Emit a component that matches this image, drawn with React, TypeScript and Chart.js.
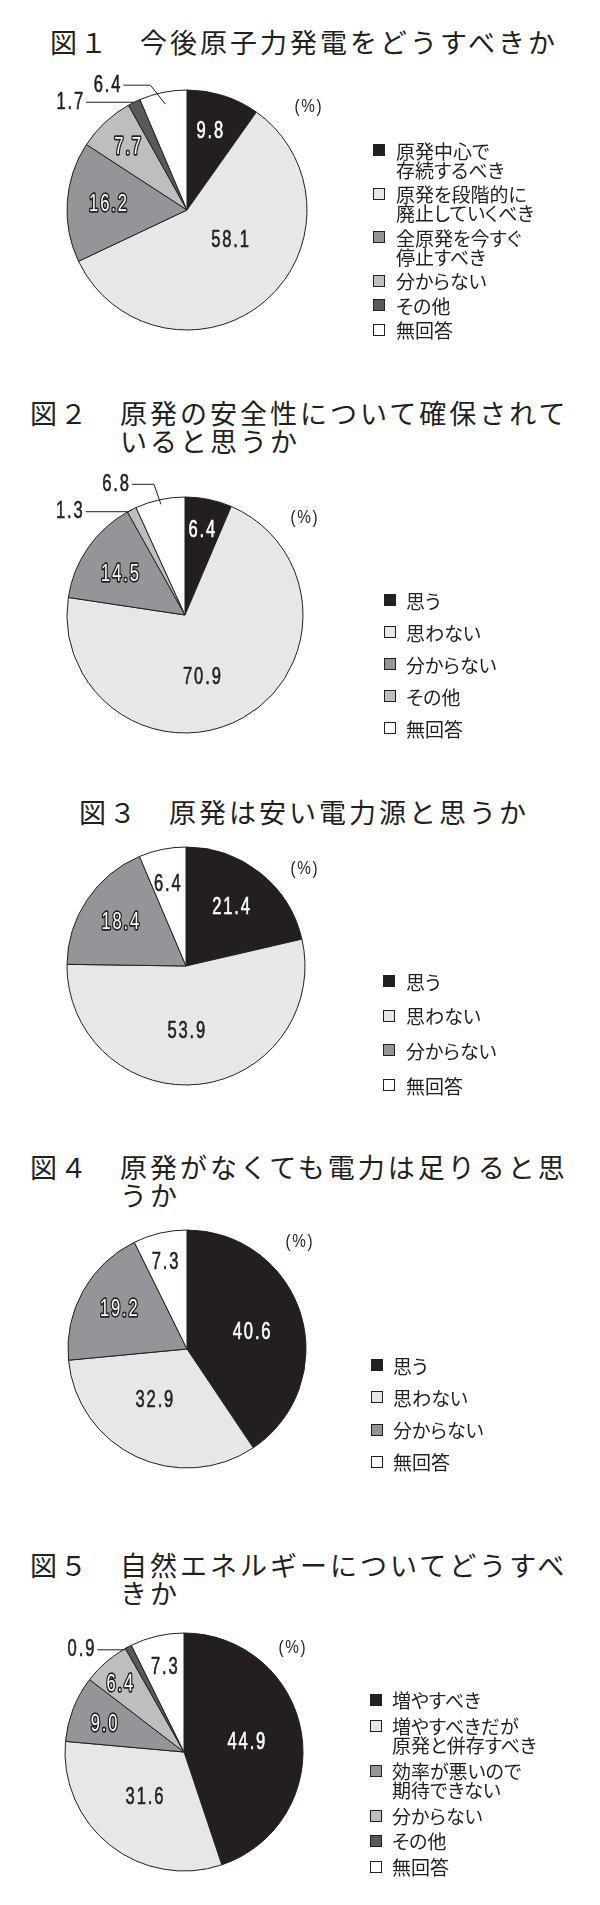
import React, { useEffect, useRef } from "react";
import { Chart, registerables } from "chart.js";

Chart.register(...registerables);

// ---------- palette ----------
const INK = "#231f20";
const BLACK = "#231f20";
const LIGHT = "#e6e7e8";
const MID = "#939598";
const PALE = "#bcbec0";
const DARK = "#58595b";
const WHITE = "#ffffff";

// ---------- data: figure 1 ----------
const title1Prefix = "図１　";
const title1Lines = ["今後原子力発電をどうすべきか"];
const categories1 = [
  "原発中心で\n存続するべき",
  "原発を段階的に\n廃止していくべき",
  "全原発を今すぐ\n停止すべき",
  "分からない",
  "その他",
  "無回答",
];
const values1 = [9.8, 58.1, 16.2, 7.7, 1.7, 6.4];
const colors1 = [BLACK, LIGHT, MID, PALE, DARK, WHITE];

// ---------- data: figure 2 ----------
const title2Prefix = "図２　";
const title2Lines = ["原発の安全性について確保されて", "いると思うか"];
const categories2 = ["思う", "思わない", "分からない", "その他", "無回答"];
const values2 = [6.4, 70.9, 14.5, 1.3, 6.8];
const colors2 = [BLACK, LIGHT, MID, PALE, WHITE];

// ---------- data: figure 3 ----------
const title3Prefix = "図３　";
const title3Lines = ["原発は安い電力源と思うか"];
const categories3 = ["思う", "思わない", "分からない", "無回答"];
const values3 = [21.4, 53.9, 18.4, 6.4];
const colors3 = [BLACK, LIGHT, MID, WHITE];

// ---------- data: figure 4 ----------
const title4Prefix = "図４　";
const title4Lines = ["原発がなくても電力は足りると思", "うか"];
const categories4 = ["思う", "思わない", "分からない", "無回答"];
const values4 = [40.6, 32.9, 19.2, 7.3];
const colors4 = [BLACK, LIGHT, MID, WHITE];

// ---------- data: figure 5 ----------
const title5Prefix = "図５　";
const title5Lines = ["自然エネルギーについてどうすべ", "きか"];
const categories5 = [
  "増やすべき",
  "増やすべきだが\n原発と併存すべき",
  "効率が悪いので\n期待できない",
  "分からない",
  "その他",
  "無回答",
];
const values5 = [44.9, 31.6, 9.0, 6.4, 0.9, 7.3];
const colors5 = [BLACK, LIGHT, MID, PALE, DARK, WHITE];

const PCT_LABEL = "(%)";

// ---------- layout ----------
type Outside = { index: number; r: number; ex: number; ey: number; len: number };
type Fig = {
  titlePrefix: string;
  titleLines: string[];
  titleX: number;
  titleY: number;
  categories: string[];
  values: number[];
  colors: string[];
  top: number;
  height: number;
  cx: number;
  cy: number;
  radius: number;
  labelR: number[];
  labelF: number[];
  outside: Outside[];
  pct: [number, number];
  legend: { sx: number; tx: number; y: number; lineH: number; gap: number };
};

const CANVAS_W = 340;

const figures: Fig[] = [
  {
    titlePrefix: title1Prefix, titleLines: title1Lines, titleX: 50, titleY: 42,
    categories: categories1, values: values1, colors: colors1,
    top: 0, height: 370, cx: 187, cy: 210, radius: 120,
    labelR: [0.68, 0.44, 0.66, 0.72, 0, 0],
    labelF: [0.46, 0.43, 0.5, 0.49, 0.5, 0.5],
    outside: [
      { index: 4, r: 1.0, ex: 6, ey: 0, len: 42 },
      { index: 5, r: 0.9, ex: 15, ey: 19, len: 27 },
    ],
    pct: [121, -103],
    legend: { sx: 373, tx: 396, y: 150, lineH: 19, gap: 5.5 },
  },
  {
    titlePrefix: title2Prefix, titleLines: title2Lines, titleX: 30, titleY: 413,
    categories: categories2, values: values2, colors: colors2,
    top: 370, height: 410, cx: 185, cy: 615, radius: 118,
    labelR: [0.73, 0.55, 0.65, 0, 0],
    labelF: [0.49, 0.555, 0.45, 0.5, 0.5],
    outside: [
      { index: 3, r: 1.0, ex: 3, ey: -2, len: 43 },
      { index: 4, r: 0.96, ex: 7, ey: 20, len: 22 },
    ],
    pct: [119, -97],
    legend: { sx: 384, tx: 406, y: 600, lineH: 19, gap: 13 },
  },
  {
    titlePrefix: title3Prefix, titleLines: title3Lines, titleX: 79, titleY: 812,
    categories: categories3, values: values3, colors: colors3,
    top: 780, height: 350, cx: 186, cy: 966, radius: 119,
    labelR: [0.62, 0.55, 0.66, 0.7],
    labelF: [0.49, 0.53, 0.49, 0.44],
    outside: [],
    pct: [118, -97],
    legend: { sx: 383, tx: 406, y: 981, lineH: 19, gap: 15.7 },
  },
  {
    titlePrefix: title4Prefix, titleLines: title4Lines, titleX: 30, titleY: 1167,
    categories: categories4, values: values4, colors: colors4,
    top: 1130, height: 390, cx: 187, cy: 1349, radius: 119,
    labelR: [0.56, 0.51, 0.66, 0.75],
    labelF: [0.52, 0.56, 0.51, 0.46],
    outside: [],
    pct: [112, -107],
    legend: { sx: 371, tx: 393, y: 1365, lineH: 19, gap: 13.3 },
  },
  {
    titlePrefix: title5Prefix, titleLines: title5Lines, titleX: 30, titleY: 1565,
    categories: categories5, values: values5, colors: colors5,
    top: 1520, height: 385, cx: 184, cy: 1752, radius: 119,
    labelR: [0.53, 0.51, 0.71, 0.78, 0, 0.73],
    labelF: [0.505, 0.52, 0.43, 0.38, 0.5, 0.5],
    outside: [{ index: 4, r: 1.0, ex: 4, ey: -3, len: 27 }],
    pct: [108, -104],
    legend: { sx: 370, tx: 392, y: 1700, lineH: 19.5, gap: 6 },
  },
];

// ---------- drawing helpers ----------
type NumStyle = { fill: string; stroke?: string; plain?: boolean };

function drawNum(
  ctx: CanvasRenderingContext2D,
  text: string,
  x: number,
  y: number,
  align: CanvasTextAlign,
  style: NumStyle,
  size = 23,
  sx = 0.72,
  spacing = 2.6
) {
  ctx.save();
  ctx.font = `${size}px "Liberation Sans", Arial, sans-serif`;
  (ctx as any).letterSpacing = `${spacing}px`;
  const shift = align === "center" ? (spacing * sx) / 2 : align === "right" ? spacing * sx : 0;
  ctx.translate(x + shift, y);
  ctx.scale(sx, 1);
  ctx.textAlign = align;
  ctx.textBaseline = "middle";
  ctx.lineJoin = "round";
  if (style.stroke) {
    ctx.lineWidth = 3.4;
    ctx.strokeStyle = style.stroke;
    ctx.strokeText(text, 0, 0);
  } else if (!style.plain) {
    // slight emboldening to match the print weight
    ctx.lineWidth = 0.6;
    ctx.strokeStyle = style.fill;
    ctx.strokeText(text, 0, 0);
  }
  ctx.fillStyle = style.fill;
  ctx.fillText(text, 0, 0);
  ctx.restore();
}

function labelStyle(color: string): NumStyle {
  if (color === BLACK || color === DARK) return { fill: "#ffffff" };
  if (color === MID || color === PALE) return { fill: "#ffffff", stroke: INK };
  return { fill: INK };
}

function makeLabelPlugin(fig: Fig) {
  return {
    id: "sliceLabels",
    afterDatasetsDraw(chart: any) {
      const ctx: CanvasRenderingContext2D = chart.ctx;
      const meta = chart.getDatasetMeta(0);
      let cx = 0;
      let cy = 0;
      meta.data.forEach((el: any, i: number) => {
        const p = el.getProps(["x", "y", "startAngle", "endAngle", "outerRadius"], true);
        cx = p.x;
        cy = p.y;
        const text = fig.values[i].toFixed(1);
        const out = fig.outside.find((o) => o.index === i);
        if (out) {
          const a = (p.startAngle + p.endAngle) / 2;
          const sx = p.x + Math.cos(a) * p.outerRadius * out.r;
          const sy = p.y + Math.sin(a) * p.outerRadius * out.r;
          const ex = sx - out.ex;
          const ey = sy - out.ey;
          const lx = ex - out.len;
          ctx.save();
          ctx.strokeStyle = INK;
          ctx.lineWidth = 1;
          ctx.beginPath();
          ctx.moveTo(sx, sy);
          ctx.lineTo(ex, ey);
          ctx.lineTo(lx, ey);
          ctx.stroke();
          ctx.restore();
          drawNum(ctx, text, lx - 3, ey, "right", { fill: INK });
          return;
        }
        const f = fig.labelF[i];
        const a = p.startAngle + (p.endAngle - p.startAngle) * f;
        const d = p.outerRadius * fig.labelR[i];
        drawNum(ctx, text, p.x + Math.cos(a) * d, p.y + Math.sin(a) * d, "center", labelStyle(fig.colors[i]));
      });
      drawNum(ctx, PCT_LABEL, cx + fig.pct[0], cy + fig.pct[1], "center", { fill: INK, plain: true }, 18, 0.85, 2);
    },
  };
}

const JP_FONT = '"Noto Sans CJK JP", "Noto Sans CJK SC", sans-serif';

function Figure({ fig }: { fig: Fig }) {
  const ref = useRef<HTMLCanvasElement>(null);
  useEffect(() => {
    const canvas = ref.current;
    if (!canvas) return;
    const cyLocal = fig.cy - fig.top;
    const r = fig.radius;
    const chart = new Chart(canvas, {
      type: "pie",
      data: {
        labels: fig.categories,
        datasets: [
          {
            data: fig.values,
            backgroundColor: fig.colors,
            borderColor: INK,
            borderWidth: 1,
          },
        ],
      },
      options: {
        responsive: false,
        animation: false,
        events: [],
        layout: {
          padding: {
            left: fig.cx - r - 0.5,
            right: CANVAS_W - fig.cx - r - 0.5,
            top: cyLocal - r - 0.5,
            bottom: fig.height - cyLocal - r - 0.5,
          },
        },
        plugins: {
          legend: { display: false },
          tooltip: { enabled: false },
          title: { display: false },
        },
      },
      plugins: [makeLabelPlugin(fig)],
    } as any);
    return () => chart.destroy();
  }, [fig]);

  const L = fig.legend;
  return (
    <>
      <div
        style={{
          position: "absolute",
          left: fig.titleX,
          top: fig.titleY - 14,
          display: "flex",
          fontFamily: JP_FONT,
          fontSize: 27,
          letterSpacing: "3px",
          lineHeight: "28px",
          color: INK,
          whiteSpace: "nowrap",
        }}
      >
        <span>{fig.titlePrefix}</span>
        <div>
          {fig.titleLines.map((line, i) => (
            <div key={i}>{line}</div>
          ))}
        </div>
      </div>
      <canvas
        ref={ref}
        width={CANVAS_W}
        height={fig.height}
        style={{ position: "absolute", left: 0, top: fig.top, width: CANVAS_W, height: fig.height, display: "block" }}
      />
      <div
        style={{
          position: "absolute",
          left: 0,
          top: L.y - L.lineH / 2,
          display: "flex",
          flexDirection: "column",
          gap: L.gap,
          fontFamily: JP_FONT,
          fontSize: 19,
          fontFeatureSettings: '"palt"',
          color: INK,
          width: 600,
        }}
      >
        {fig.categories.map((cat, i) => {
          const lines = cat.split("\n");
          return (
            <div key={i} style={{ position: "relative", height: lines.length * L.lineH }}>
              <div
                style={{
                  position: "absolute",
                  left: L.sx,
                  top: (L.lineH - 12) / 2,
                  width: 12,
                  height: 12,
                  boxSizing: "border-box",
                  border: `1px solid ${INK}`,
                  background: fig.colors[i],
                }}
              />
              <div style={{ position: "absolute", left: L.tx, top: 0, lineHeight: `${L.lineH}px`, whiteSpace: "nowrap" }}>
                {lines.map((ln, j) => (
                  <div key={j}>{ln}</div>
                ))}
              </div>
            </div>
          );
        })}
      </div>
    </>
  );
}

export default function App() {
  return (
    <div
      style={{
        position: "absolute",
        left: 0,
        top: 0,
        width: 600,
        height: 1905,
        overflow: "hidden",
        background: "#ffffff",
      }}
    >
      {figures.map((fig, i) => (
        <Figure key={i} fig={fig} />
      ))}
    </div>
  );
}
